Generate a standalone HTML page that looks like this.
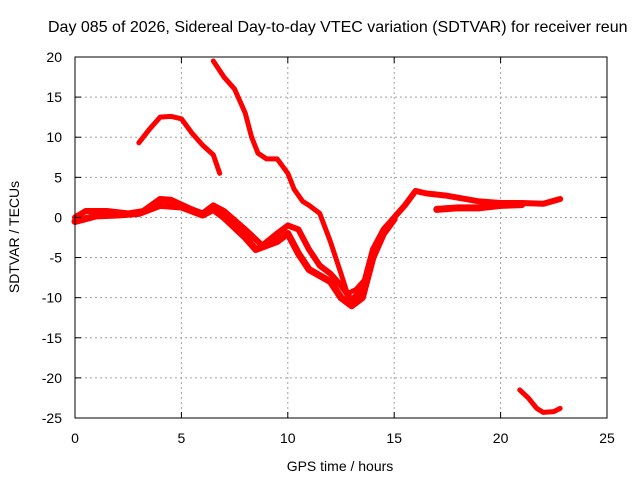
<!DOCTYPE html>
<html><head><meta charset="utf-8"><style>
html,body{margin:0;padding:0;background:#fff;}
svg{display:block;font-family:"Liberation Sans",sans-serif;}
</style></head><body>
<svg id="chart" width="640" height="480" viewBox="0 0 640 480">
<rect width="640" height="480" fill="#fff"/>
<g id="grid"></g>
<g id="series"></g>
<rect x="75" y="57" width="532" height="361" fill="none" stroke="#000" stroke-width="1"/>
<g id="ticks"></g>
<text x="48" y="32" font-size="16">Day 085 of 2026, Sidereal Day-to-day VTEC variation (SDTVAR) for receiver reun</text>
<text transform="translate(19,237) rotate(-90)" text-anchor="middle" font-size="14">SDTVAR / TECUs</text>
<text x="340" y="471" text-anchor="middle" font-size="14">GPS time / hours</text>
</svg>
<script>
const xTicks=[0,5,10,15,20,25];
const yTicks=[20,15,10,5,0,-5,-10,-15,-20,-25];
const bandUpper=[[0,0],[0.5,0.8],[1.5,0.8],[2.5,0.5],[3.2,0.8],[4,2.3],[4.5,2.2],[5.5,1],[6,0.5],[6.5,1.5],[7,0.8],[8,-1.5],[8.8,-3.5],[9.5,-2],[10,-1],[10.5,-1.5],[11,-4],[11.5,-6],[12,-7],[12.5,-8.5],[13,-10.3],[13.5,-9],[14,-4],[14.5,-1.5],[15,0],[15.5,1.5],[16,3.3],[16.5,3],[17.5,2.7],[19,2],[20,1.8],[21,1.8],[22,1.7],[22.8,2.3]];
const bandLower=[[0,-0.5],[1,0.2],[2,0.3],[3,0.5],[4,1.5],[5,1.3],[6,0.3],[6.5,1],[7,0],[8,-2.5],[8.5,-4],[9.5,-3],[10,-2],[10.5,-4.5],[11,-6.5],[12,-8],[12.5,-10],[13,-11],[13.5,-10],[14,-5],[14.5,-2],[15,-0.2]];
const bandTail=[[17,1],[18,1.2],[19,1.2],[20,1.5],[21,1.6]];
const arcSeries=[[3,9.3],[3.5,11],[4,12.5],[4.5,12.6],[5,12.3],[5.5,10.5],[6,9],[6.5,7.8],[6.8,5.5]];
const descSeries=[[6.5,19.5],[7,17.5],[7.5,16],[8,13],[8.3,10],[8.6,8],[9,7.3],[9.5,7.3],[10,5.5],[10.3,3.5],[10.7,2],[11,1.5],[11.5,0.5],[12,-3],[12.5,-7],[12.8,-9.5],[13.2,-9],[13.7,-7.5]];
const lateSeries=[[20.9,-21.5],[21.3,-22.5],[21.7,-23.8],[22,-24.3],[22.5,-24.2],[22.8,-23.8]];
const NS='http://www.w3.org/2000/svg';
function xs(h){return 75+h*532/25;}
function ys(v){return 57+(20-v)*361/45;}
const grid=document.getElementById('grid'),ticks=document.getElementById('ticks'),ser=document.getElementById('series');
function mk(t,a,p){const e=document.createElementNS(NS,t);for(const k in a)e.setAttribute(k,a[k]);p.appendChild(e);return e;}
xTicks.forEach(t=>{const x=xs(t);
 if(t>0&&t<25){const g=mk('line',{x1:x,x2:x,y1:57,y2:418,stroke:'#a0a0a0','stroke-dasharray':'2,3'},grid);
 
 }
 const l=mk('text',{x:x,y:443,'text-anchor':'middle','font-size':'14'},ticks);l.textContent=t;
 
 
 mk('line',{x1:x,x2:x,y1:418,y2:412,stroke:'#000'},ticks);mk('line',{x1:x,x2:x,y1:57,y2:63,stroke:'#000'},ticks);});
yTicks.forEach(t=>{const y=ys(t);
 if(t<20&&t>-25){const g=mk('line',{x1:75,x2:607,y1:y,y2:y,stroke:'#a0a0a0','stroke-dasharray':'2,3'},grid);
 
 }
 const l=mk('text',{x:62,y:y+5,'text-anchor':'end','font-size':'14'},ticks);l.textContent=t;
 
 
 mk('line',{x1:75,x2:81,y1:y,y2:y,stroke:'#000'},ticks);mk('line',{x1:607,x2:601,y1:y,y2:y,stroke:'#000'},ticks);});
function draw(pts,w,name){const p=mk('polyline',{points:pts.map(d=>xs(d[0])+','+ys(d[1])).join(' '),fill:'none',stroke:'#ff0000','stroke-width':w,'stroke-linejoin':'round','stroke-linecap':'round'},ser);
 
 }
draw(bandUpper,6,'series-band-upper');
draw(bandLower,7,'series-band-lower');
draw(bandTail,7,'series-band-tail');
draw(arcSeries,5,'series-arc');
draw(descSeries,5,'series-descending');
draw(lateSeries,5,'series-late');
</script>
</body></html>
